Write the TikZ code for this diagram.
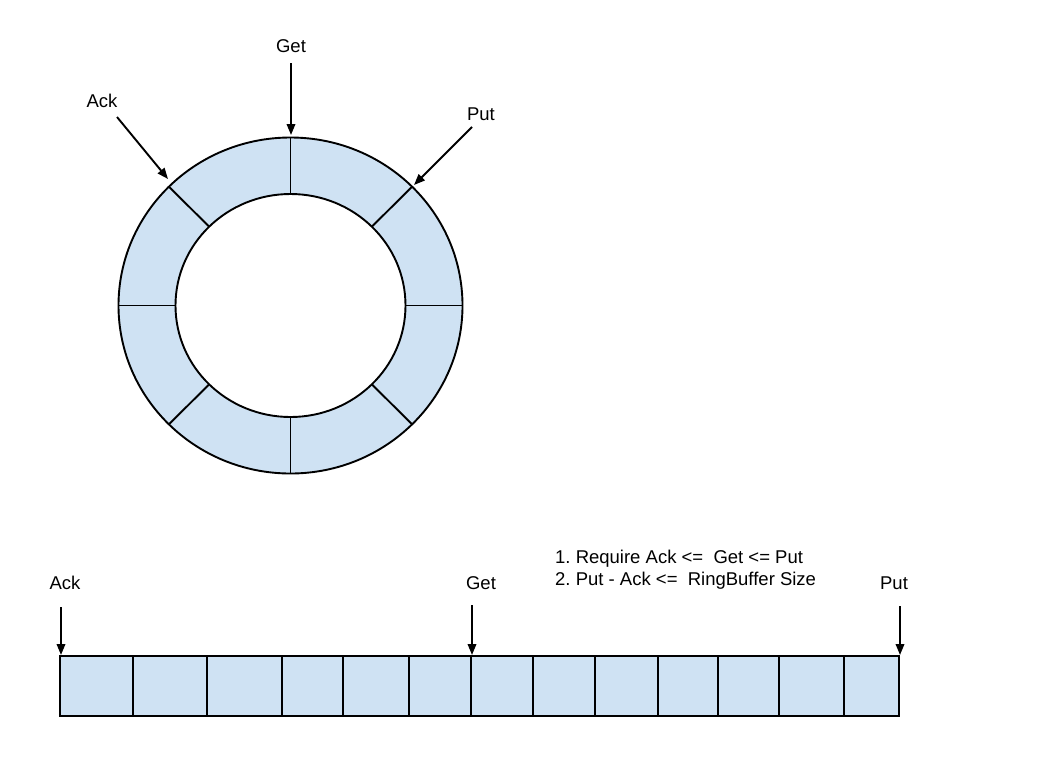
\documentclass[tikz,border=0pt]{standalone}
\usepackage{fontspec}
\setmainfont{Liberation Sans}
\usetikzlibrary{arrows.meta}
\definecolor{cellblue}{HTML}{CFE2F3}
\frenchspacing
\tikzset{
  line/.style={draw=black, line width=1.9pt},
  ptr/.style={line width=1.9pt, -{Triangle[length=11pt,width=8.5pt]}},
  lbl/.style={font=\fontsize{18.5}{21}\selectfont, inner sep=0pt},
  note/.style={font=\fontsize{18.5}{22}\selectfont, inner sep=0pt, anchor=west, align=left}
}
\begin{document}
\begin{tikzpicture}[x=1pt,y=-1pt]
\useasboundingbox[fill=white] (0,0) rectangle (1048,756);
% ring
\def\cx{290.5}\def\cy{305.5}
\def\ro{172}\def\ry{168}
\def\ri{115}\def\riy{111.5}
\path[fill=cellblue, even odd rule] (\cx,\cy) ellipse [x radius=\ro, y radius=\ry] (\cx,\cy) ellipse [x radius=\ri, y radius=\riy];
\draw[line] (\cx,\cy) ellipse [x radius=\ro, y radius=\ry];
\draw[line] (\cx,\cy) ellipse [x radius=\ri, y radius=\riy];
\foreach \a in {0,45,...,315}{
  \draw[line] ({\cx+\ro*cos(\a)},{\cy-\ry*sin(\a)}) -- ({\cx+\ri*cos(\a)},{\cy-\riy*sin(\a)});
}
% ring labels and pointers
\node[lbl] (rget) at (291,46) {Get};
\node[lbl] (rack) at (102,101) {Ack};
\node[lbl] (rput) at (481,114) {Put};
\coordinate (rgetS) at (291,63);
\coordinate (rgetT) at (291,135);
\coordinate (rackS) at (117,117);
\coordinate (rackT) at (168,179);
\coordinate (rputS) at (472,127);
\coordinate (rputT) at (414,185);
\draw[ptr] (rgetS) -- (rgetT);
\draw[ptr] (rackS) -- (rackT);
\draw[ptr] (rputS) -- (rputT);
% linear buffer
\draw[line, fill=cellblue] (60,656) rectangle (899,716);
\foreach \x in {133,207,282,343,409,471,533,595,658,718,779,844}{
  \draw[line] (\x,656) -- (\x,716);
}
\node[lbl] (lack) at (65,583) {Ack};
\node[lbl] (lget) at (481,583) {Get};
\node[lbl] (lput) at (894,583) {Put};
\coordinate (lackS) at (61,607);
\coordinate (lackT) at (61,655);
\coordinate (lgetS) at (472,605);
\coordinate (lgetT) at (472,655);
\coordinate (lputS) at (900,606);
\coordinate (lputT) at (900,655);
\draw[ptr] (lackS) -- (lackT);
\draw[ptr] (lgetS) -- (lgetT);
\draw[ptr] (lputS) -- (lputT);
\node[note] (rules) at (555,570) {1. Require Ack <=\ \ Get <= Put\\2. Put - Ack <=\ \ RingBuffer Size};
\end{tikzpicture}
\end{document}
